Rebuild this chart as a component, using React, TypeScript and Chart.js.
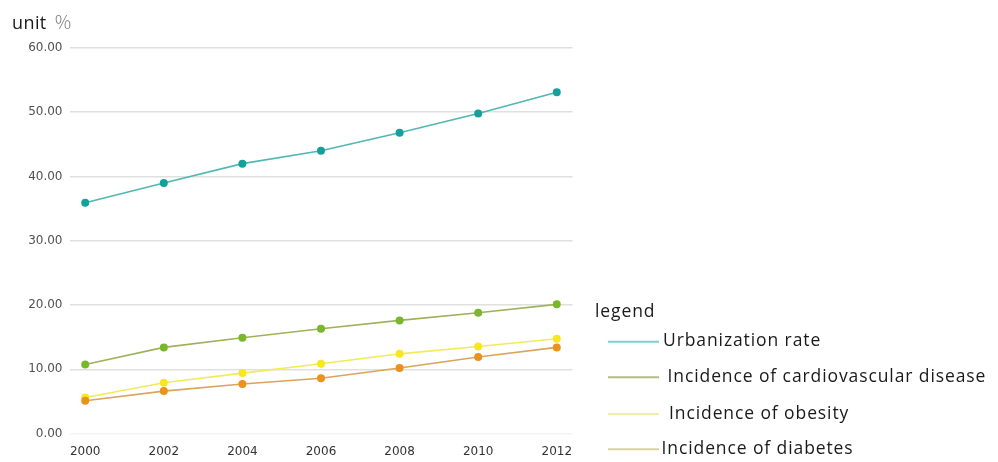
import React, { useEffect, useRef } from "react";
import { Chart, registerables } from "chart.js";

Chart.register(...registerables);

const years = [2000, 2002, 2004, 2006, 2008, 2010, 2012];
const urbanization = [35.9, 39.0, 42.0, 44.0, 46.8, 49.8, 53.1];
const cardiovascular = [10.75, 13.4, 14.9, 16.3, 17.6, 18.8, 20.1];
const obesity = [5.6, 7.9, 9.4, 10.85, 12.4, 13.55, 14.75];
const diabetes = [5.1, 6.6, 7.7, 8.6, 10.2, 11.9, 13.4];
const seriesNames = [
  "Urbanization rate",
  "Incidence of cardiovascular disease",
  "Incidence of obesity",
  "Incidence of diabetes",
];
const yTicks = [0, 10, 20, 30, 40, 50, 60];
const titleText = "unit";
const unitText = "％";
const legendTitle = "legend";

const lineColors = ["#4fb8b3", "#9fb25a", "#f2ea5a", "#d9a55a"];
const pointColors = ["#15a09b", "#78b82a", "#f7e81e", "#ea921c"];
const legendColors = ["#7fcfd3", "#b4bd7a", "#f2eeaa", "#d8d3a0"];

const legendLayout = [
  { lineY: 341.7, textX: 663, baseY: 345.5 },
  { lineY: 377.3, textX: 667.5, baseY: 382 },
  { lineY: 414, textX: 669, baseY: 418.5 },
  { lineY: 449.3, textX: 661.5, baseY: 453.5 },
];

const overlayPlugin = {
  id: "overlay",
  afterDraw(chart: any) {
    const ctx = chart.ctx as any;
    ctx.save();
    ctx.textBaseline = "alphabetic";
    ctx.textAlign = "left";
    ctx.fillStyle = "#1a1a1a";
    ctx.font = "18px 'Open Sans'";
    ctx.letterSpacing = "0.4px";
    ctx.fillText(titleText, 12, 28.5);
    ctx.letterSpacing = "0px";
    ctx.fillStyle = "#7a7a7a";
    ctx.font = "300 18px 'Noto Sans CJK SC'";
    ctx.fillText(unitText, 54, 28.5);

    ctx.fillStyle = "#1a1a1a";
    ctx.font = "17.5px 'Open Sans'";
    ctx.letterSpacing = "0.9px";
    ctx.fillText(legendTitle, 595, 317);
    seriesNames.forEach((name, i) => {
      const l = legendLayout[i];
      ctx.strokeStyle = legendColors[i];
      ctx.lineWidth = 2;
      ctx.beginPath();
      ctx.moveTo(608, l.lineY);
      ctx.lineTo(659, l.lineY);
      ctx.stroke();
      ctx.fillStyle = "#1a1a1a";
      ctx.fillText(name, l.textX, l.baseY);
    });
    ctx.letterSpacing = "0px";
    ctx.restore();
  },
};

export default function App() {
  const ref = useRef<HTMLCanvasElement | null>(null);
  useEffect(() => {
    if (!ref.current) return;
    const all = [urbanization, cardiovascular, obesity, diabetes];
    const chart = new Chart(ref.current, {
      type: "line",
      data: {
        datasets: all.map((vals, i) => ({
          label: seriesNames[i],
          data: years.map((y, j) => ({ x: y, y: vals[j] })),
          borderColor: lineColors[i],
          backgroundColor: pointColors[i],
          pointBackgroundColor: pointColors[i],
          pointBorderColor: pointColors[i],
          pointRadius: 3.2,
          borderWidth: 1.6,
          tension: 0,
          fill: false,
          order: i === 0 ? 0 : 4 - i,
        })),
      },
      options: {
        responsive: false,
        animation: false,
        layout: { padding: { left: 0, right: 425.5, top: 48, bottom: 0 } },
        plugins: {
          legend: { display: false },
          tooltip: { enabled: false },
          title: { display: false },
        },
        scales: {
          x: {
            type: "linear",
            min: 1999.6,
            max: 2012.4,
            afterBuildTicks: (scale: any) => {
              scale.ticks = years.map((v) => ({ value: v }));
            },
            afterFit: (scale: any) => {
              scale.height = 28.5;
            },
            grid: { display: false, drawTicks: false },
            border: { display: false },
            ticks: {
              padding: 11,
              color: "#333333",
              font: { family: "'DejaVu Sans'", size: 12 },
              callback: (v: any) => String(v),
              maxRotation: 0,
              autoSkip: false,
            },
          },
          y: {
            min: 0,
            max: 60,
            afterBuildTicks: (scale: any) => {
              scale.ticks = yTicks.map((v) => ({ value: v }));
            },
            afterFit: (scale: any) => {
              scale.width = 69.5;
            },
            grid: {
              drawTicks: false,
              color: (c: any) => (c.tick && c.tick.value === 0 ? "#f3f3f3" : "#e0e0e0"),
              lineWidth: 1.5,
            },
            border: { display: false },
            ticks: {
              padding: 7,
              color: "#505050",
              font: { family: "'DejaVu Sans'", size: 12 },
              callback: (v: any) => Number(v).toFixed(2),
            },
          },
        },
      },
      plugins: [overlayPlugin],
    });
    return () => chart.destroy();
  }, []);
  return (
    <div style={{ position: "absolute", left: 0, top: 0, width: 998, height: 462, background: "#ffffff" }}>
      <canvas ref={ref} width={998} height={462} style={{ display: "block" }} />
    </div>
  );
}
